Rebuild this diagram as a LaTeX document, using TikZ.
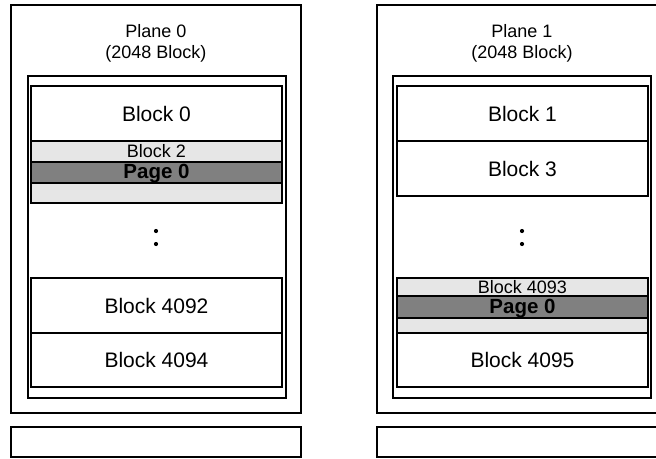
\documentclass[tikz,border=0pt]{standalone}
\usepackage{fontspec}
\setmainfont{Liberation Sans}
\definecolor{lightg}{HTML}{E6E6E6}
\definecolor{darkg}{HTML}{808080}
\begin{document}
\begin{tikzpicture}[x=1pt,y=-1pt,
  ln/.style={line width=1.8pt},
  blk/.style={font=\fontsize{21}{24}\selectfont},
  plabel/.style={font=\fontsize{18}{21}\selectfont,align=center},
  small/.style={font=\fontsize{18}{20}\selectfont},
  pg/.style={font=\bfseries\fontsize{20.5}{22}\selectfont},
  dot/.style={circle,fill=black,inner sep=0pt,minimum size=4.2pt}]
\useasboundingbox (0,0) rectangle (656,458);
% ---------- Plane 0 ----------
\draw[ln] (11,5) rectangle (301,413);
\node[plabel] (p0) at (156,43) {Plane 0\\(2048 Block)};
\draw[ln] (28,76) rectangle (286,398);
\draw[ln] (31,86) rectangle (282,141);
\node[blk] (b0) at (156.5,113.5) {Block 0};
\draw[ln,fill=lightg] (31,141) rectangle (282,203);
\draw[ln,fill=darkg] (31,162) rectangle (282,183);
\node[small] (b2) at (156.5,151) {Block 2};
\node[pg] (pg0) at (156.5,174) {Page 0};
\node[dot] (d1) at (156,231) {};
\node[dot] (d2) at (156,244) {};
\draw[ln] (31,278) rectangle (282,333);
\draw[ln] (31,333) rectangle (282,387);
\node[blk] (b4092) at (156.5,305.5) {Block 4092};
\node[blk] (b4094) at (156.5,360) {Block 4094};
\draw[ln] (11,427) rectangle (301,457);
% ---------- Plane 1 ----------
\draw[ln] (377,5) rectangle (667,413);
\node[plabel] (p1) at (522,43) {Plane 1\\(2048 Block)};
\draw[ln] (393,76) rectangle (651,398);
\draw[ln] (397,86) rectangle (648,141);
\draw[ln] (397,141) rectangle (648,196);
\node[blk] (b1) at (522.5,113.5) {Block 1};
\node[blk] (b3) at (522.5,168.5) {Block 3};
\node[dot] (d3) at (522,231) {};
\node[dot] (d4) at (522,244) {};
\draw[ln,fill=lightg] (397,278) rectangle (648,333);
\draw[ln,fill=darkg] (397,296) rectangle (648,318);
\node[small] (b4093) at (522.5,287) {Block 4093};
\node[pg] (pg1) at (522.5,308.5) {Page 0};
\draw[ln] (397,333) rectangle (648,387);
\node[blk] (b4095) at (522.5,360) {Block 4095};
\draw[ln] (377,427) rectangle (667,457);
\end{tikzpicture}
\end{document}
